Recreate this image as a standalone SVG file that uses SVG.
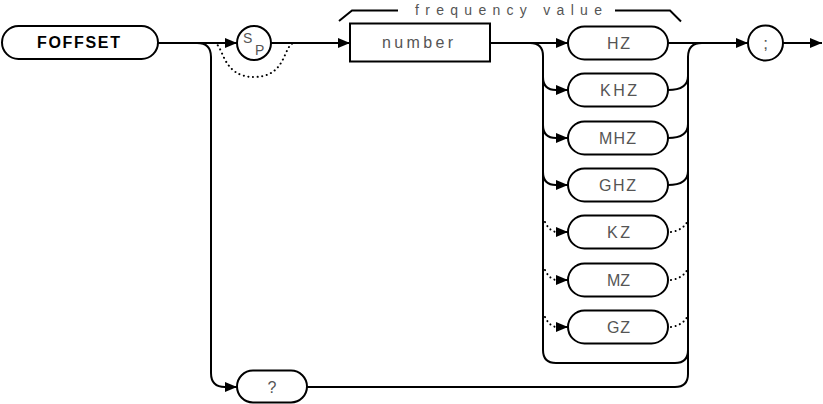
<svg xmlns="http://www.w3.org/2000/svg" width="823" height="404" viewBox="0 0 823 404">
<style>
.shape{fill:#fff;stroke:#000;stroke-width:2}
.ln{fill:none;stroke:#000;stroke-width:2}
.dot{fill:none;stroke:#000;stroke-width:2;stroke-dasharray:0.1 4.5;stroke-linecap:round}
.t{font-family:"Liberation Sans",Arial,sans-serif;font-size:16px;fill:#555}
.kw{font-family:"Liberation Sans",Arial,sans-serif;font-size:16px;font-weight:bold;fill:#000}
</style>
<defs>
<marker id="arr" markerUnits="userSpaceOnUse" markerWidth="12" markerHeight="10" refX="12" refY="5" orient="auto" viewBox="0 0 12 10">
<path d="M0,0 L12,5 L0,10 z" fill="#000"/>
</marker>
</defs>
<g id="connectors">
<path class="ln" d="M158,43 H237" marker-end="url(#arr)"/>
<path class="ln" d="M271,43 H350" marker-end="url(#arr)"/>
<path class="dot" d="M214,43 C224,44 221,77 254,77 C287,77 283,45 294,43"/>
<path class="ln" d="M197,43 Q211,43 211,57 V373 Q211,387 225,387 H237" marker-end="url(#arr)"/>
<path class="ln" d="M307,387 H675 Q688,387 688,374 V350"/>
<path class="ln" d="M490,43 H568" marker-end="url(#arr)"/>
<path class="ln" d="M530,43 Q543,43 543,56 V350 Q543,363 556,363 H675 Q688,363 688,350 V57 Q688,43 702,43"/>
<path class="ln" d="M668,43 H748" marker-end="url(#arr)"/>
<path class="ln" d="M783,43 H822" marker-end="url(#arr)"/>
<path class="ln" d="M543,77 Q543,90 556,90 H568" marker-end="url(#arr)"/>
<path class="ln" d="M668,90 Q688,90 688,76"/>
<path class="ln" d="M543,125 Q543,138 556,138 H568" marker-end="url(#arr)"/>
<path class="ln" d="M668,138 Q688,138 688,124"/>
<path class="ln" d="M543,172 Q543,185 556,185 H568" marker-end="url(#arr)"/>
<path class="ln" d="M668,185 Q688,185 688,171"/>
<path class="dot" d="M545,222 Q550,232 557,232"/>
<path class="ln" d="M557,232 H568" marker-end="url(#arr)"/>
<path class="dot" d="M671,232 Q684,230 688,220"/>
<path class="dot" d="M545,270 Q550,280 557,280"/>
<path class="ln" d="M557,280 H568" marker-end="url(#arr)"/>
<path class="dot" d="M671,280 Q684,278 688,268"/>
<path class="dot" d="M545,317 Q550,327 557,327"/>
<path class="ln" d="M557,327 H568" marker-end="url(#arr)"/>
<path class="dot" d="M671,327 Q684,325 688,315"/>
</g>
<g id="label-frequency-value">
<path class="ln" d="M339,21 L352,10.5 H398"/>
<path class="ln" d="M615,10.5 H670 L681,21.5"/>
<text class="t" x="415" y="15" font-size="14" textLength="187" lengthAdjust="spacing" style="font-size:14px">frequency value</text>
</g>
<g id="node-foffset">
<rect class="shape" x="2" y="26" width="156" height="33" rx="16.5"/>
<text class="kw" x="37" y="48" textLength="83" lengthAdjust="spacing">FOFFSET</text>
</g>
<g id="node-sp">
<circle class="shape" cx="254" cy="43" r="17"/>
<text class="t" x="243" y="43" style="font-size:14px">S</text>
<text class="t" x="255" y="55" style="font-size:14px">P</text>
</g>
<g id="node-number">
<rect class="shape" x="350" y="23.5" width="140" height="38"/>
<text class="t" x="382" y="48" textLength="71" lengthAdjust="spacing">number</text>
</g>
<g id="node-hz">
<rect class="shape" x="568" y="26.5" width="100" height="33" rx="16.5"/>
<text class="t" x="607" y="49" textLength="23" lengthAdjust="spacing">HZ</text>
</g>
<g id="node-khz">
<rect class="shape" x="568" y="73.5" width="100" height="33" rx="16.5"/>
<text class="t" x="600" y="96" textLength="37" lengthAdjust="spacing">KHZ</text>
</g>
<g id="node-mhz">
<rect class="shape" x="568" y="121.5" width="100" height="33" rx="16.5"/>
<text class="t" x="599" y="144" textLength="37" lengthAdjust="spacing">MHZ</text>
</g>
<g id="node-ghz">
<rect class="shape" x="568" y="168.5" width="100" height="33" rx="16.5"/>
<text class="t" x="599" y="191" textLength="37" lengthAdjust="spacing">GHZ</text>
</g>
<g id="node-kz">
<rect class="shape" x="568" y="215.5" width="100" height="33" rx="16.5"/>
<text class="t" x="607" y="238" textLength="23" lengthAdjust="spacing">KZ</text>
</g>
<g id="node-mz">
<rect class="shape" x="568" y="263.5" width="100" height="33" rx="16.5"/>
<text class="t" x="607" y="286" textLength="23" lengthAdjust="spacing">MZ</text>
</g>
<g id="node-gz">
<rect class="shape" x="568" y="310.5" width="100" height="33" rx="16.5"/>
<text class="t" x="607" y="333" textLength="23" lengthAdjust="spacing">GZ</text>
</g>
<g id="node-query">
<rect class="shape" x="237" y="370.5" width="70" height="32" rx="16"/>
<text class="t" x="272" y="393" text-anchor="middle">?</text>
</g>
<g id="node-semicolon">
<circle class="shape" cx="765.5" cy="43" r="17.5"/>
<text class="t" x="765.5" y="49" text-anchor="middle" style="font-size:17px">;</text>
</g>
</svg>
